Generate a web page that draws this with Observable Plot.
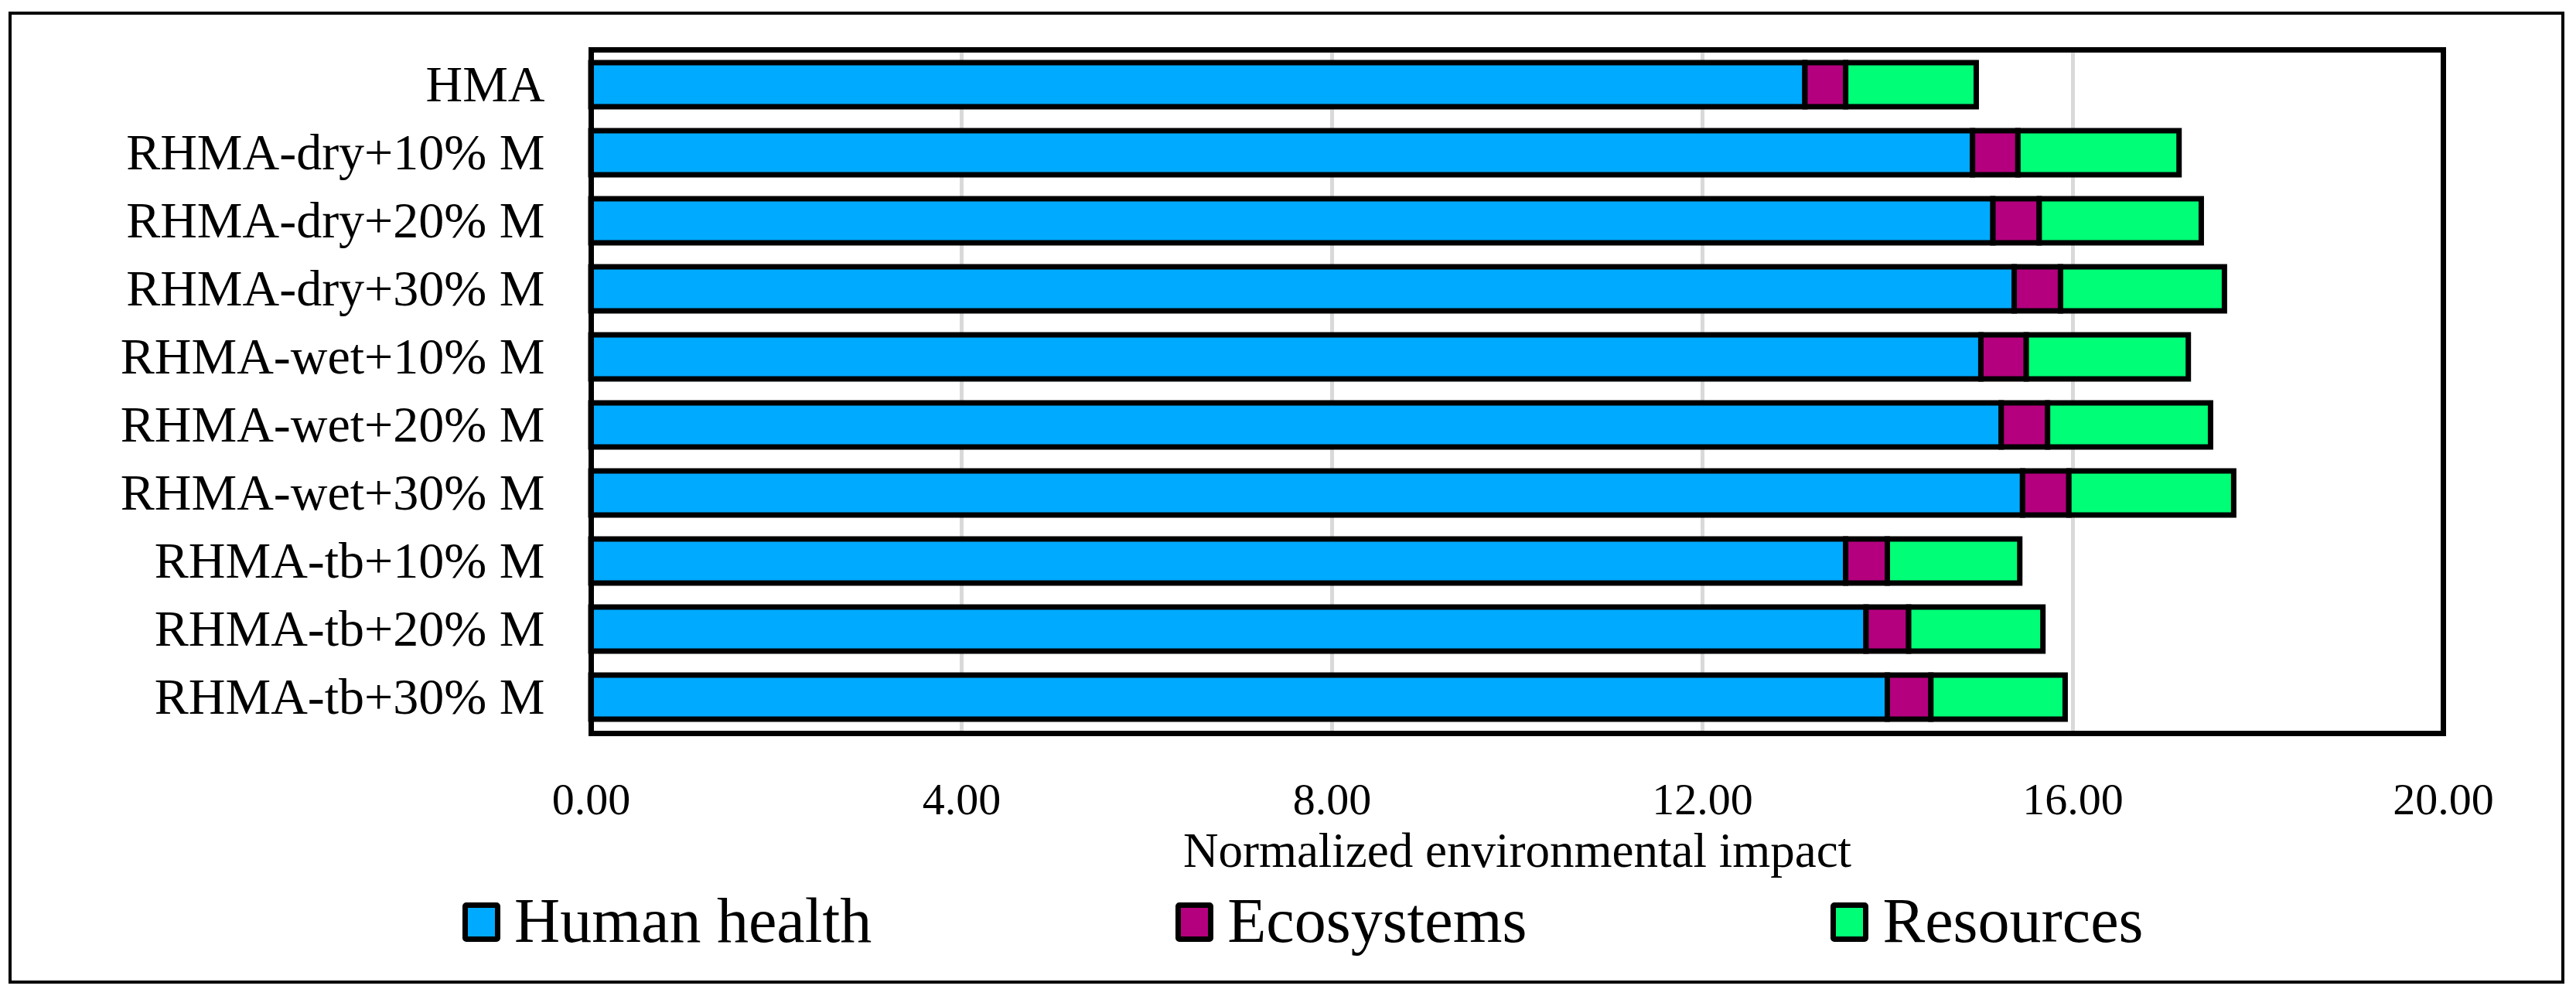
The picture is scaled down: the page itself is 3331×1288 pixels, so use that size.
<!DOCTYPE html>
<html>
<head>
<meta charset="utf-8">
<script src="https://cdn.jsdelivr.net/npm/d3@7"></script>
<script src="https://cdn.jsdelivr.net/npm/@observablehq/plot@0.6"></script>
<style>
  html, body { margin: 0; padding: 0; background: #fff; overflow: hidden; width: 3331px; height: 1288px; }
  #chart { position: absolute; left: 0; top: 0; }
  #frame { position: absolute; left: 11px; top: 15px; width: 3305px; height: 1257px; border: 4px solid #000; box-sizing: border-box; pointer-events: none; }
  #legend { position: absolute; left: 598px; top: 1150px; display: flex; align-items: baseline;
            font-family: "Palatino Linotype", "Book Antiqua", Palatino, "Liberation Serif", serif; font-size: 82px; line-height: 1; color: #000; }
  .item { display: flex; align-items: baseline; margin-right: 393px; }
  .sw { width: 35px; height: 37px; border: 7px solid #000; border-radius: 5px; margin-right: 18px; }
</style>
</head>
<body>
<div id="chart"></div>
<div id="legend"></div>
<div id="frame"></div>
<script>
const categories = [
  "HMA",
  "RHMA-dry+10% M",
  "RHMA-dry+20% M",
  "RHMA-dry+30% M",
  "RHMA-wet+10% M",
  "RHMA-wet+20% M",
  "RHMA-wet+30% M",
  "RHMA-tb+10% M",
  "RHMA-tb+20% M",
  "RHMA-tb+30% M"
];
const humanHealth = [13.11, 14.92, 15.14, 15.37, 15.01, 15.23, 15.46, 13.55, 13.77, 14.00];
const ecosystems  = [0.44, 0.49, 0.50, 0.50, 0.49, 0.50, 0.50, 0.45, 0.46, 0.47];
const resources   = [1.41, 1.74, 1.75, 1.77, 1.75, 1.76, 1.78, 1.43, 1.45, 1.45];
const seriesNames = ["Human health", "Ecosystems", "Resources"];
const seriesColors = ["#00aaff", "#b4007e", "#00ff77"];
const xTicks = [0, 4, 8, 12, 16, 20];
const xTitle = "Normalized environmental impact";

const seriesValues = [humanHealth, ecosystems, resources];
const data = categories.flatMap((cat, i) =>
  seriesNames.map((s, j) => ({ cat, series: s, value: seriesValues[j][i] }))
);

const font = '"Palatino Linotype", "Book Antiqua", Palatino, "Liberation Serif", serif';
const W = 3331, H = 1150;

const chart = Plot.plot({
  width: W,
  height: H,
  marginLeft: 764,
  marginRight: W - 3159,
  marginTop: 64,
  marginBottom: H - 948,
  style: { fontFamily: font, color: "#000", background: "transparent" },
  x: { domain: [0, 20], label: xTitle },
  y: { domain: categories, paddingInner: 0.35, paddingOuter: 0.175, label: null },
  color: { domain: seriesNames, range: seriesColors },
  marks: [
    Plot.gridX(xTicks.slice(1, -1), { stroke: "#d9d9d9", strokeOpacity: 1, strokeWidth: 5 }),
    Plot.barX(data, { x: "value", y: "cat", fill: "series", stroke: "#000", strokeWidth: 7 }),
    Plot.axisX({ ticks: xTicks, tickFormat: d3.format(".2f"), tickSize: 0, tickPadding: 63, fontSize: 58, label: null }),
    Plot.axisX({ ticks: [], tickSize: 0, fontSize: 63, label: xTitle, labelAnchor: "center", labelArrow: "none", labelOffset: 172 }),
    Plot.axisY({ tickSize: 0, tickPadding: 60, fontSize: 66, label: null }),
    Plot.frame({ stroke: "#000", strokeWidth: 7 })
  ]
});
document.getElementById("chart").appendChild(chart);

const legend = document.getElementById("legend");
seriesNames.forEach((s, j) => {
  const item = document.createElement("div");
  item.className = "item";
  const sw = document.createElement("div");
  sw.className = "sw";
  sw.style.background = seriesColors[j];
  const t = document.createElement("span");
  t.textContent = s;
  item.appendChild(sw);
  item.appendChild(t);
  legend.appendChild(item);
});
</script>
</body>
</html>
